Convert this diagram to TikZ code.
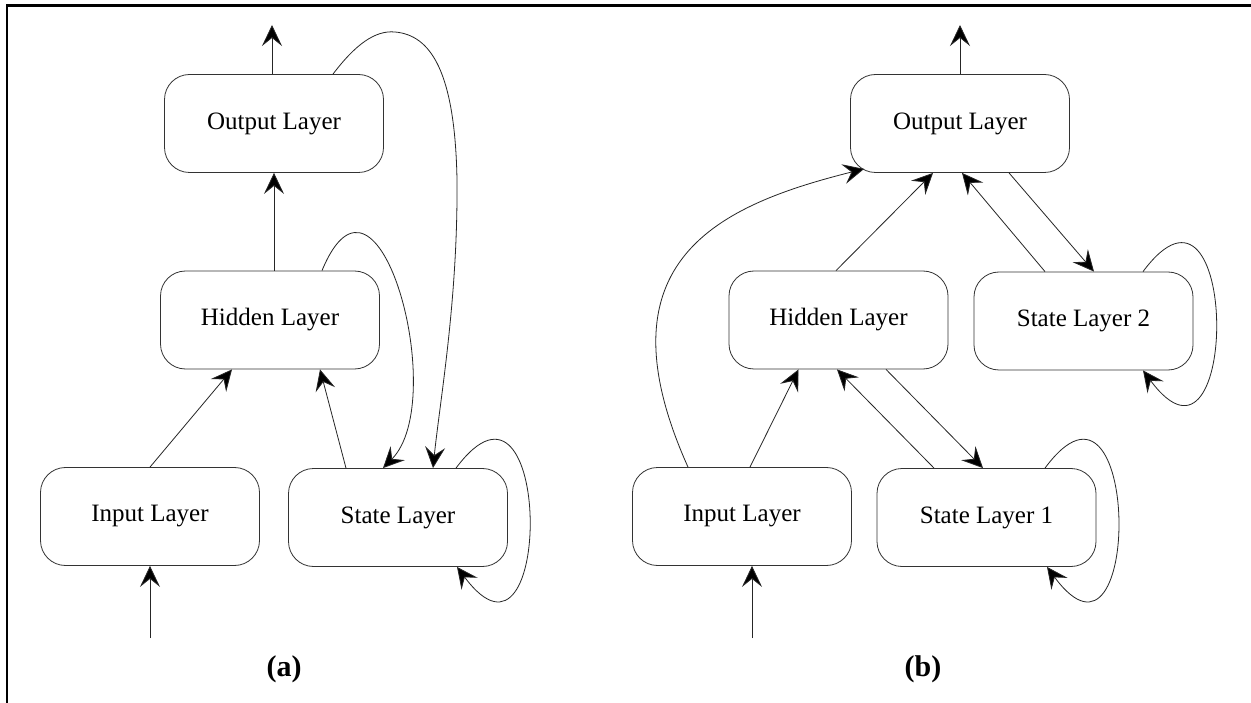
\documentclass[tikz,border=0pt]{standalone}
\usepackage{fontspec}
\setmainfont{Liberation Serif}
\usetikzlibrary{arrows.meta,calc}
\begin{document}
\begin{tikzpicture}[x=1pt,y=-1pt,
  layer/.style={draw=black!80, line width=0.8pt, rounded corners=25pt,
    minimum width=219pt, minimum height=98pt, inner sep=0pt,
    font=\fontsize{25}{29}\selectfont},
  link/.style={draw=black!85, line width=0.8pt,
    -{Stealth[length=21pt,width=20pt,inset=8pt,fill=black]}},
  caption/.style={font=\bfseries\fontsize{30}{34}\selectfont}]
\useasboundingbox (0,0) rectangle (1251,703);
\fill[white] (0,0) rectangle (1251,703);
\draw[line width=2.5pt] (7,703) -- (7,5.5) -- (1251,5.5);

% ---------- (a) ----------
\node[layer] (outA) at (274,123.5) {Output Layer};
\node[layer] (hidA) at (270,320) {Hidden Layer};
\node[layer] (inA) at (150,516.5) {Input Layer};
\node[layer] (stA) at (398,517.5) {State Layer};
\coordinate (inAsrc) at (150,638);
\coordinate (outAdst) at (272,25);

\draw[link] (inAsrc) -- (inA.south);
\draw[link] (inA.north) -- ([xshift=-38pt]hidA.south);
\draw[link] ([xshift=-52pt]stA.north) -- ([xshift=50pt]hidA.south);
\draw[link] ([xshift=4pt]hidA.north) -- ([xshift=0pt]outA.south);
\draw[link] ([xshift=-2pt]outA.north) -- (outAdst);
\draw[link] ([xshift=52pt]hidA.north) .. controls (378,135) and (450,400) .. ([xshift=-15pt]stA.north);
\draw[link] ([xshift=59pt]outA.north) .. controls (355,45) and (375,30) .. (395,32)
  .. controls (430,35) and (455,70) .. (457,180)
  .. controls (458,300) and (440,400) .. ([xshift=35pt]stA.north);
\draw[link] ([xshift=58pt]stA.north) .. controls (553,338) and (554,697) .. ([xshift=59pt]stA.south);

\node[caption] (capA) at (284,669) {(a)};

% ---------- (b) ----------
\node[layer] (outB) at (960,123.5) {Output Layer};
\node[layer] (hidB) at (838.5,320) {Hidden Layer};
\node[layer] (st2) at (1083.5,321) {State Layer 2};
\node[layer] (inB) at (742,516.5) {Input Layer};
\node[layer] (st1) at (986.5,517.5) {State Layer 1};
\coordinate (inBsrc) at (752,638);
\coordinate (outBdst) at (960,25);

\draw[link] (inBsrc) -- ([xshift=10pt]inB.south);
\draw[link] ([xshift=8pt]inB.north) -- ([xshift=-40pt]hidB.south);
\draw[link] ([xshift=-54pt]inB.north) .. controls (595,260) and (720,205) .. ([xshift=14pt,yshift=4pt]outB.south west);
\draw[link] ([xshift=-2.5pt]hidB.north) -- ([xshift=-27pt]outB.south);
\draw[link] ([xshift=-38.5pt]st2.north) -- ([xshift=2pt]outB.south);
\draw[link] ([xshift=49pt]outB.south) -- ([xshift=10.5pt]st2.north);
\draw[link] ([xshift=47.5pt]hidB.south) -- ([xshift=-3.5pt]st1.north);
\draw[link] ([xshift=-52.5pt]st1.north) -- ([xshift=-1.5pt]hidB.south);
\draw[link] (outB.north) -- (outBdst);
\draw[link] ([xshift=58.5pt]st1.north) .. controls (1141,338) and (1143,697) .. ([xshift=60.5pt]st1.south);
\draw[link] ([xshift=59.5pt]st2.north) .. controls (1240,141) and (1240,501) .. ([xshift=59.5pt]st2.south);

\node[caption] (capB) at (923,669) {(b)};
\end{tikzpicture}
\end{document}
